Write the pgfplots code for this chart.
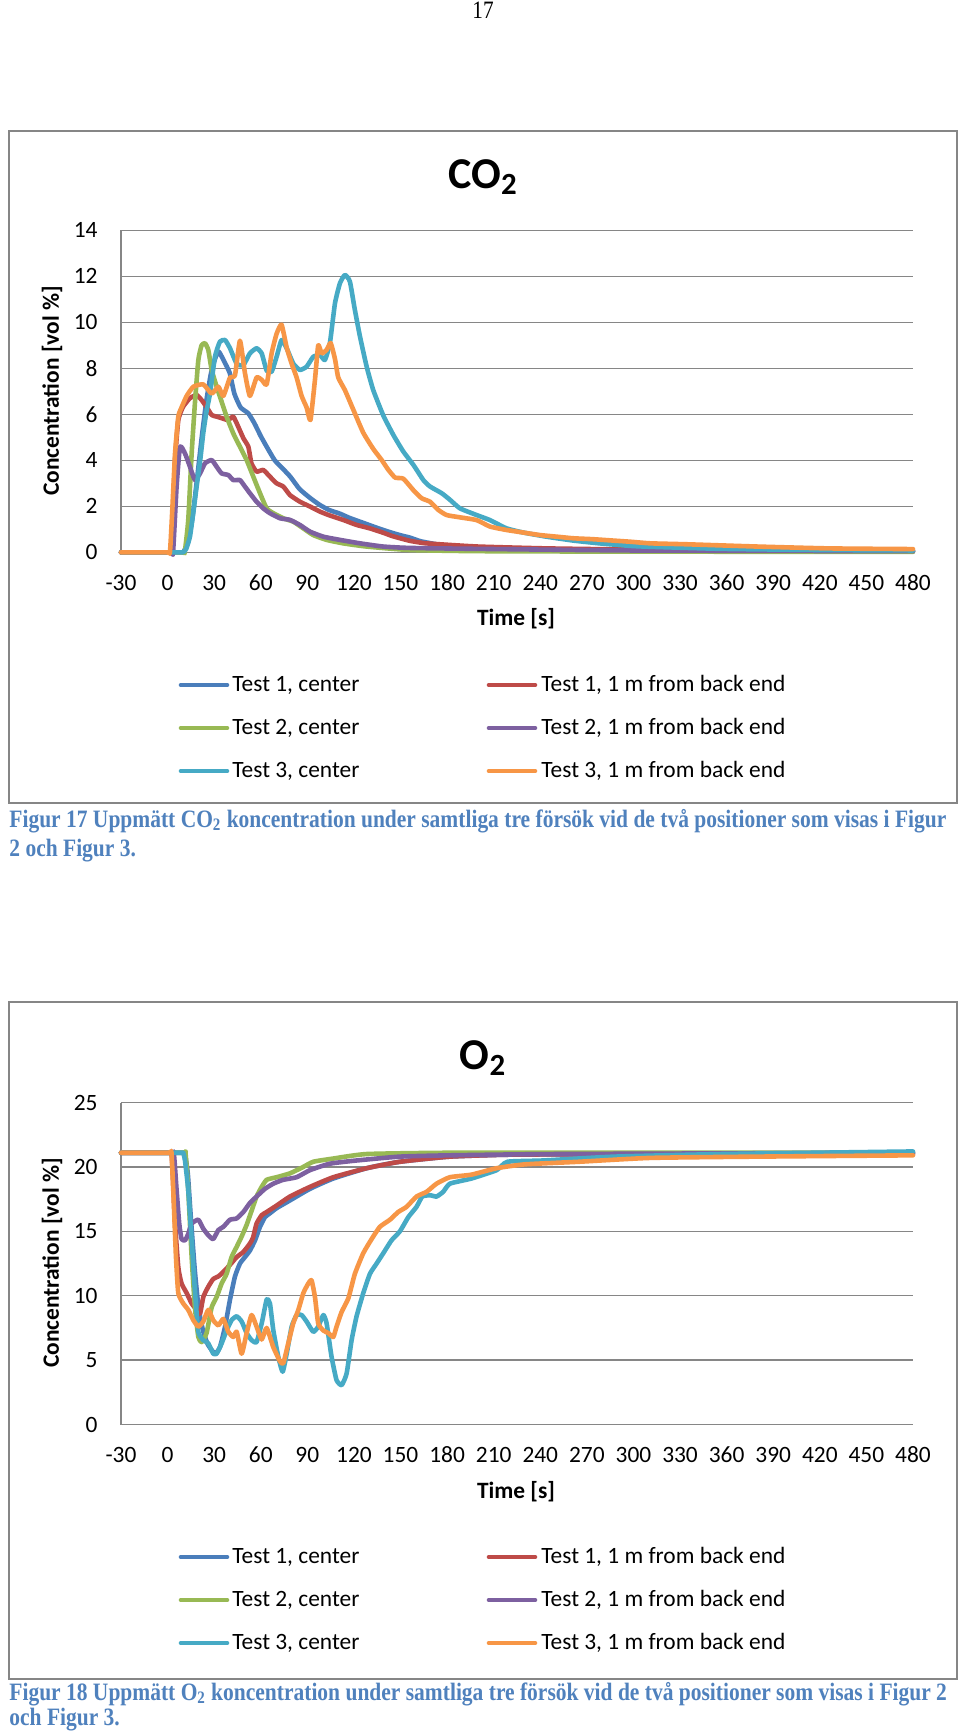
\documentclass[border=0pt]{standalone}
\usepackage{graphicx}
\usepackage{pgfplots}
\pgfplotsset{compat=1.18}
\usepackage{fontspec}
\setmainfont{Carlito}
\newfontfamily\seriffont{Liberation Serif}
\definecolor{gridgray}{RGB}{134,134,134}
\definecolor{cTa}{RGB}{74,126,187}
\definecolor{cTb}{RGB}{190,75,72}
\definecolor{cTc}{RGB}{152,185,84}
\definecolor{cTd}{RGB}{125,96,160}
\definecolor{cTe}{RGB}{70,170,197}
\definecolor{cTf}{RGB}{247,150,70}
\definecolor{capblue}{RGB}{79,129,189}
\newcommand\chartfont{\fontsize{11.7}{14}\selectfont}
\newcommand\capfont{\fontsize{12.5}{14}\selectfont\seriffont\bfseries}
\newlength\capw
\pgfplotsset{
 excel/.style={
  scale only axis, width=396pt, height=161pt,
  xmin=-30, xmax=480,
  xtick={-30,0,...,480},
  axis lines=left,
  axis line style={-, draw=gridgray, line width=0.7pt},
  ymajorgrids, grid style={draw=gridgray, line width=0.7pt},
  major tick length=0pt,
  tick label style={font=\chartfont},
  /pgf/number format/assume math mode=true,
  xticklabel style={anchor=base, yshift=-19.2pt, inner sep=0pt},
  yticklabel style={anchor=east, xshift=-11.5pt, inner sep=0pt},
  clip=false,
  every axis plot/.append style={line width=2.3pt, line join=round, line cap=round, no marks, smooth, tension=0.3},
 }
}
\begin{document}%
\settowidth\capw{\capfont Figur 17 Uppmätt CO\textsubscript{2} koncentration under samtliga tre försök vid de två positioner som visas i Figur}%
\pgfmathsetmacro\capsx{468.5/max(\capw,1)}%
\begin{tikzpicture}
\path[use as bounding box, fill=white] (0,0) rectangle (480pt,-868pt);
\begin{scope}[x=0.5pt,y=-0.5pt]
 \draw[gridgray, line width=0.7pt] (9,131) rectangle (957,803);
 \draw[gridgray, line width=0.7pt] (9,1002) rectangle (957,1679);
\end{scope}
% ---------------- CO2 ----------------
\begin{axis}[excel, at={(60.5pt,-276.15pt)}, anchor=south west, ymin=0, ymax=14, ytick={0,2,...,14}]
\addplot[cTa] coordinates {(-30,0) (8,0) (10,0) (13,0.4) (16,1.5) (19,3.2) (22,5.0) (25,6.6) (28,7.8) (31,8.5) (33,8.72) (36,8.36) (40,7.8) (43,6.9) (47,6.3) (52,6.04) (56,5.6) (60,5.05) (65,4.45) (69,4.0) (73,3.72) (79,3.29) (85,2.75) (92,2.35) (98,2.06) (104,1.84) (111,1.68) (117,1.5) (126,1.28) (135,1.06) (143,0.88) (150,0.74) (156,0.64) (163,0.48) (175,0.33) (190,0.25) (210,0.16) (250,0.1) (300,0.06) (400,0.04) (480,0.03)};
\addplot[cTb] coordinates {(-30,0) (0,0) (2,0) (3.5,1.5) (4.8,4.0) (6.9,5.75) (10,6.33) (14.4,6.7) (18.7,6.84) (21.9,6.62) (25,6.33) (28.4,5.97) (31.6,5.9) (35,5.83) (39,5.75) (42.3,5.9) (45.5,5.46) (48.8,4.96) (52,4.59) (54,3.87) (57.3,3.51) (61.6,3.58) (65.9,3.29) (70.2,3.0) (74.5,2.86) (78.8,2.49) (85.2,2.2) (91.7,1.99) (98.1,1.77) (104.5,1.6) (113,1.41) (121.7,1.19) (130.3,1.04) (138.9,0.85) (145,0.7) (156,0.5) (165,0.4) (175,0.35) (200,0.25) (244,0.17) (300,0.12) (400,0.08) (480,0.06)};
\addplot[cTc] coordinates {(-30,0) (9,0) (11,0) (13.3,1.4) (15.5,4.3) (17.6,6.48) (19.8,8.36) (21.9,9.0) (24.1,9.09) (26.2,8.8) (28.4,7.93) (31.6,7.2) (34.8,6.55) (38,5.9) (42.3,5.17) (46.6,4.59) (50.9,4.01) (55.2,3.29) (59.5,2.57) (63.8,1.91) (68.1,1.7) (74.5,1.48) (81,1.33) (87.4,1.04) (93.8,0.75) (102.4,0.54) (113.1,0.39) (128.2,0.25) (156,0.1) (200,0.05) (300,0.03) (480,0.02)};
\addplot[cTd] coordinates {(-30,0) (1.5,0) (3.5,0) (5.8,2.86) (8,4.59) (11.2,4.3) (14.4,3.72) (17.6,3.14) (20.9,3.43) (24.1,3.87) (28.4,4.01) (31.6,3.72) (34.8,3.43) (39.1,3.36) (42.3,3.14) (46.6,3.14) (49.8,2.86) (53,2.57) (57.3,2.2) (61.6,1.91) (65.9,1.7) (72.4,1.48) (78.8,1.41) (85.2,1.19) (91.7,0.9) (100.3,0.68) (111,0.54) (123.9,0.39) (138.9,0.25) (156,0.19) (200,0.15) (300,0.08) (480,0.05)};
\addplot[cTe] coordinates {(-30,0) (8,0) (10,0) (12,0.15) (14.4,0.68) (16.5,1.7) (18.7,2.86) (21,4.0) (23,5.2) (25,6.1) (27.3,6.9) (30.5,8.5) (33.7,9.16) (37,9.23) (40.2,8.87) (44.5,8.2) (48.8,8.14) (53,8.65) (57.3,8.87) (60.6,8.65) (63.8,7.9) (67,7.85) (70.2,8.5) (73.4,9.23) (76.7,8.87) (81,8.2) (85.2,7.93) (89.5,8.07) (93.8,8.5) (98.1,8.58) (101.3,8.36) (104.5,9.09) (107.8,10.83) (111,11.7) (114.2,12.06) (117.4,11.77) (120.6,10.54) (123.9,9.38) (128.2,8.07) (132.4,7.06) (138.9,5.95) (145.4,5.1) (151.8,4.38) (158.3,3.8) (164.7,3.14) (169,2.86) (176.5,2.57) (181.9,2.28) (188.3,1.91) (199,1.62) (207.6,1.4) (218.3,1.04) (229,0.86) (244,0.68) (261.3,0.51) (278,0.39) (297.8,0.28) (311,0.24) (357,0.15) (420,0.1) (480,0.08)};
\addplot[cTf] coordinates {(-30,0) (-0.5,0) (1.5,0) (3,1.8) (4.8,4.3) (6.9,5.9) (9,6.3) (12.3,6.8) (16.6,7.2) (23,7.3) (28.4,6.9) (32.7,7.2) (35.9,6.8) (40.2,7.6) (43.4,7.7) (46.6,9.2) (49.8,7.8) (53,6.8) (57.3,7.6) (60.6,7.5) (63.8,7.3) (67,8.65) (70.2,9.5) (73.4,9.9) (76.7,8.9) (79.9,8.2) (83.1,7.6) (86.3,6.8) (89.5,6.3) (92,5.75) (94.9,7.5) (97,9.0) (99.2,8.65) (102.4,8.8) (105,9.1) (107.8,8.4) (109.9,7.6) (114.2,7.05) (119.6,6.2) (126,5.2) (132.4,4.5) (138,4.0) (142,3.6) (146.5,3.25) (151.8,3.2) (158.3,2.7) (163.6,2.35) (169,2.2) (174.4,1.84) (179.7,1.62) (188.3,1.52) (199,1.4) (207.6,1.12) (218.3,0.97) (229,0.86) (239.8,0.75) (250.5,0.68) (261.3,0.61) (274,0.57) (287,0.51) (298,0.46) (311,0.39) (334,0.35) (380,0.25) (426,0.17) (480,0.14)};
\end{axis}
% ---------------- O2 ----------------
\begin{axis}[excel, at={(60.5pt,-712.25pt)}, anchor=south west, ymin=0, ymax=25, ytick={0,5,...,25}]
\addplot[cTa] coordinates {(-30,21.1) (9,21.1) (11,21.1) (13,19.5) (15,16) (17.5,12) (20,9) (23,7.2) (26,6.2) (30.5,5.5) (33.7,6.0) (37,7.6) (40.2,9.7) (43.4,11.5) (46.6,12.5) (49.8,13.0) (53,13.5) (56.3,14.3) (59.5,15.35) (62.7,16.1) (65.9,16.4) (70.2,16.8) (78.8,17.4) (91.7,18.3) (106.7,19.1) (128.2,19.9) (149.6,20.4) (181.8,20.8) (220,20.95) (300,21.0) (480,21.05)};
\addplot[cTb] coordinates {(-30,21.1) (0.5,21.1) (2.5,21.1) (3.5,19) (4.8,15.6) (6.9,12.2) (9,10.95) (12.3,10.2) (15.5,9.4) (18.7,8.9) (20.9,8.6) (23,9.9) (26.2,10.7) (29.4,11.3) (32.7,11.5) (35.9,11.85) (40.2,12.4) (44.5,13.0) (48.8,13.4) (53,14.05) (55,14.5) (57.3,15.6) (60.6,16.25) (63.8,16.5) (70.2,17.0) (78.8,17.7) (91.7,18.45) (106.7,19.2) (128.2,19.9) (149.6,20.4) (181.8,20.8) (220,20.95) (300,21.0) (480,21.0)};
\addplot[cTc] coordinates {(-30,21.1) (9.5,21.1) (11.5,21.1) (13.3,18.2) (15.5,13.0) (17.6,9.1) (19.8,6.8) (21.9,6.4) (25.1,7.1) (28.4,9.1) (31.6,9.9) (34.8,10.95) (38,11.7) (41.2,13.0) (44.5,13.8) (47.7,14.6) (50.9,15.5) (54.1,16.6) (57.3,17.7) (60.6,18.45) (63.8,19.0) (70.2,19.2) (78.8,19.5) (87.4,20.0) (93.8,20.4) (106.7,20.65) (128.2,21.0) (181.8,21.1) (300,21.1) (480,21.1)};
\addplot[cTd] coordinates {(-30,21.1) (2,21.1) (4,21.1) (5.8,18.2) (7.5,15.6) (9,14.4) (11.2,14.3) (13.3,14.8) (15.5,15.6) (19.8,15.9) (23,15.2) (26.2,14.7) (29.4,14.4) (32.7,15.1) (35.9,15.35) (40.2,15.9) (44.5,16.0) (48.8,16.5) (53,17.2) (57.3,17.7) (62.7,18.3) (68.1,18.7) (74.5,19.0) (83.1,19.2) (91.7,19.75) (104.5,20.25) (121.7,20.5) (149.6,20.8) (181.8,20.9) (250,21.0) (480,21.1)};
\addplot[cTe] coordinates {(-30,21.1) (8,21.1) (10,21.1) (11.2,20.5) (13.3,18.2) (15.5,14.3) (17.6,10.4) (19.8,7.2) (23,6.55) (26.2,6.3) (29.4,5.5) (31.6,5.5) (34.8,6.3) (38,7.3) (41.2,8.1) (44.5,8.4) (47.7,8.0) (50.9,7.1) (54.1,6.55) (57.3,6.4) (60.6,7.85) (63.8,9.7) (65.9,9.4) (68.1,7.3) (71.3,5.25) (74.1,4.1) (76.7,5.5) (79.9,7.6) (83.1,8.5) (86.3,8.5) (89.5,8.0) (93.8,7.2) (97,7.6) (100.3,8.5) (102.4,7.85) (105.6,5.25) (108.8,3.45) (112.1,3.06) (115.3,3.97) (118.5,6.55) (121.7,8.4) (126,10.2) (130.3,11.7) (134.6,12.5) (138.9,13.3) (144.2,14.3) (149.6,15.0) (155,16.1) (160.3,16.9) (164,17.7) (169,17.8) (173.2,17.7) (177.5,18.07) (181.8,18.7) (195.7,19.1) (211.9,19.75) (218.8,20.4) (242,20.5) (288,20.8) (357,21.0) (480,21.2)};
\addplot[cTf] coordinates {(-30,21.1) (0.5,21.1) (2.5,21.1) (4.1,16.9) (5.4,13.0) (6.9,10.2) (10.1,9.4) (13.3,8.9) (16.6,8.1) (19.8,7.6) (23,8.0) (26.2,8.9) (29.4,8.1) (32.7,7.7) (35.9,8.2) (39.1,7.2) (42.3,6.8) (44.5,7.2) (47.7,5.5) (50.9,7.1) (54.1,8.5) (57.3,7.6) (60.6,6.6) (63.8,7.5) (68.1,6.0) (72.4,4.9) (74.5,4.75) (77.7,6.3) (80.9,7.85) (84.2,8.9) (87.4,10.2) (90.6,10.95) (92.7,11.2) (94.9,9.9) (97,7.85) (100.3,7.3) (103.5,7.1) (106.7,6.8) (108.8,7.6) (112.1,8.75) (116.4,9.8) (120.6,11.7) (126,13.3) (131.4,14.4) (136.7,15.35) (143.2,15.9) (148.5,16.5) (153.9,16.9) (160.3,17.7) (166.8,18.07) (173.2,18.7) (181.8,19.2) (195.7,19.4) (211.9,19.9) (230.1,20.2) (264.8,20.4) (310.9,20.7) (380,20.8) (480,20.9)};
\end{axis}
% ---------------- texts ----------------
\begin{scope}[x=0.5pt,y=-0.5pt]
 \node[anchor=base, inner sep=0pt] at (483,18) {\scalebox{0.85}[1]{\fontsize{12.5}{14}\selectfont\seriffont 17}};
 % titles
 \node[inner sep=0pt, font=\fontsize{22}{26}\selectfont\bfseries] at (483,177) {CO\textsubscript{2}};
 \node[inner sep=0pt, font=\fontsize{22}{26}\selectfont\bfseries] at (483,1058) {O\textsubscript{2}};
 % axis labels
 \node[inner sep=0pt, rotate=90, font=\chartfont\bfseries] at (52,391) {Concentration [vol \%]};
 \node[inner sep=0pt, rotate=90, font=\chartfont\bfseries] at (52,1263) {Concentration [vol \%]};
 \node[inner sep=0pt, font=\chartfont\bfseries] at (516,619) {Time [s]};
 \node[inner sep=0pt, font=\chartfont\bfseries] at (516,1491.5) {Time [s]};
 % legends
 \foreach \dy in {0,872}{
  \draw[cTa, line width=2.3pt, line cap=round] (181,685+\dy) -- (227,685+\dy);
  \draw[cTc, line width=2.3pt, line cap=round] (181,728+\dy) -- (227,728+\dy);
  \draw[cTe, line width=2.3pt, line cap=round] (181,771+\dy) -- (227,771+\dy);
  \draw[cTb, line width=2.3pt, line cap=round] (489,685+\dy) -- (535,685+\dy);
  \draw[cTd, line width=2.3pt, line cap=round] (489,728+\dy) -- (535,728+\dy);
  \draw[cTf, line width=2.3pt, line cap=round] (489,771+\dy) -- (535,771+\dy);
  \node[anchor=west, inner sep=0pt, font=\chartfont] at (232,685+\dy) {Test 1, center};
  \node[anchor=west, inner sep=0pt, font=\chartfont] at (232,728+\dy) {Test 2, center};
  \node[anchor=west, inner sep=0pt, font=\chartfont] at (232,771+\dy) {Test 3, center};
  \node[anchor=west, inner sep=0pt, font=\chartfont] at (541,685+\dy) {Test 1, 1 m from back end};
  \node[anchor=west, inner sep=0pt, font=\chartfont] at (541,728+\dy) {Test 2, 1 m from back end};
  \node[anchor=west, inner sep=0pt, font=\chartfont] at (541,771+\dy) {Test 3, 1 m from back end};
 }
 % captions
 \node[anchor=base west, inner sep=0pt, text=capblue] at (9,827) {\scalebox{\capsx}[1]{\capfont Figur 17 Uppmätt CO\textsubscript{2} koncentration under samtliga tre försök vid de två positioner som visas i Figur}};
 \node[anchor=base west, inner sep=0pt, text=capblue] at (9,856) {\scalebox{\capsx}[1]{\capfont 2 och Figur 3.}};
 \node[anchor=base west, inner sep=0pt, text=capblue] at (9,1700) {\scalebox{\capsx}[1]{\capfont Figur 18 Uppmätt O\textsubscript{2} koncentration under samtliga tre försök vid de två positioner som visas i Figur 2}};
 \node[anchor=base west, inner sep=0pt, text=capblue] at (9,1725) {\scalebox{\capsx}[1]{\capfont och Figur 3.}};
\end{scope}
\end{tikzpicture}
\end{document}
